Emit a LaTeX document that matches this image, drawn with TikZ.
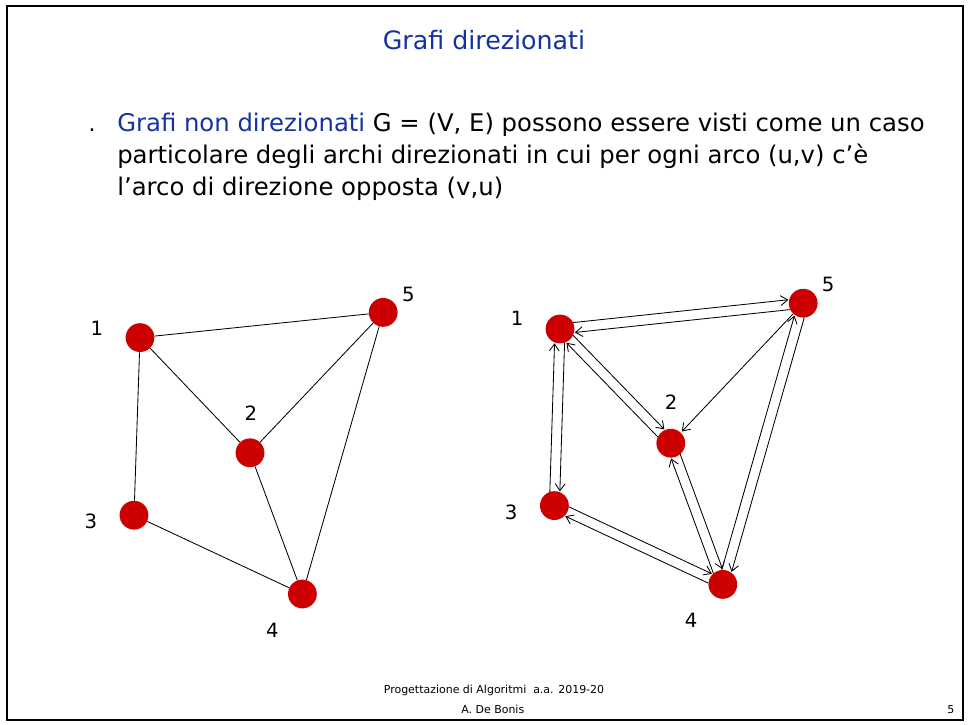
\documentclass[tikz,border=0pt]{standalone}
\usepackage{fontspec}
\setmainfont{DejaVu Sans}
\usetikzlibrary{arrows.meta,calc}

\definecolor{slideblue}{RGB}{20,50,160}
\definecolor{vertexred}{RGB}{204,0,0}

% double arc, shifted to the left of its direction
\newcommand{\doppio}[2]{%
  \draw[arc] ($(#1)!0.125cm!90:(#2)$) -- ($(#2)!0.125cm!-90:(#1)$);}

\begin{document}
\begin{tikzpicture}[
  vertex/.style={circle,fill=vertexred,minimum size=0.72cm,inner sep=0pt},
  label/.style={font=\fontsize{14}{16}\selectfont},
  edge/.style={semithick},
  arc/.style={semithick,-{Straight Barb[length=5pt,width=7pt]},
    shorten <=0.34cm,shorten >=0.36cm},
  footer/.style={font=\fontsize{7.8}{9}\selectfont}
]
\useasboundingbox (0,0) rectangle (24.2,18.1);

% Frame
\draw[line width=1.5pt] (0.175,0.1) rectangle (24.075,17.95);

% Title
\node[text=slideblue,font=\fontsize{18}{20}\selectfont] (title) at (12.1,17.1) {Grafi direzionati};

% Bullet
\node[font=\fontsize{15.5}{18}\selectfont,anchor=base] (dot) at (2.3,14.8) {.};
\node[anchor=north west,align=left,inner sep=0pt,
  font=\fontsize{17.3}{22.7}\selectfont] (text) at (2.925,15.27)
  {\textcolor{slideblue}{Grafi non direzionati} G = (V, E) possono essere visti come un caso\\
   particolare degli archi direzionati in cui per ogni arco (u,v) c'è\\
   l'arco di direzione opposta (v,u)};

% Undirected graph
\node[vertex] (a1) at (3.5,9.66) {};
\node[vertex] (a2) at (6.25,6.78) {};
\node[vertex] (a3) at (3.35,5.22) {};
\node[vertex] (a4) at (7.56,3.25) {};
\node[vertex] (a5) at (9.58,10.29) {};

\node[label] (la1) at (2.42,9.9) {1};
\node[label] (la2) at (6.27,7.78) {2};
\node[label] (la3) at (2.27,5.06) {3};
\node[label] (la4) at (6.81,2.35) {4};
\node[label] (la5) at (10.21,10.73) {5};

\draw[edge] (a1) -- (a5);
\draw[edge] (a1) -- (a2);
\draw[edge] (a1) -- (a3);
\draw[edge] (a2) -- (a5);
\draw[edge] (a2) -- (a4);
\draw[edge] (a3) -- (a4);
\draw[edge] (a5) -- (a4);

% Directed graph
\node[vertex] (b1) at (14.0,9.875) {};
\node[vertex] (b2) at (16.77,7.02) {};
\node[vertex] (b3) at (13.86,5.46) {};
\node[vertex] (b4) at (18.07,3.49) {};
\node[vertex] (b5) at (20.08,10.52) {};

\node[label] (lb1) at (12.93,10.15) {1};
\node[label] (lb2) at (16.78,8.05) {2};
\node[label] (lb3) at (12.78,5.28) {3};
\node[label] (lb4) at (17.28,2.58) {4};
\node[label] (lb5) at (20.7,10.98) {5};

\doppio{b1}{b5} \doppio{b5}{b1}
\doppio{b1}{b3} \doppio{b3}{b1}
\doppio{b1}{b2} \doppio{b2}{b1}
\doppio{b3}{b4} \doppio{b4}{b3}
\doppio{b2}{b4} \doppio{b4}{b2}
\doppio{b5}{b4} \doppio{b4}{b5}
\draw[arc,shorten <=0pt,shorten >=1pt] (b5) -- (b2);

% Footer
\node[footer] (foot1) at (12.35,0.85) {Progettazione di Algoritmi\ \ a.a. 2019-20};
\node[footer] (foot2) at (12.32,0.37) {A. De Bonis};
\node[footer] (page) at (23.77,0.37) {5};
\end{tikzpicture}
\end{document}
